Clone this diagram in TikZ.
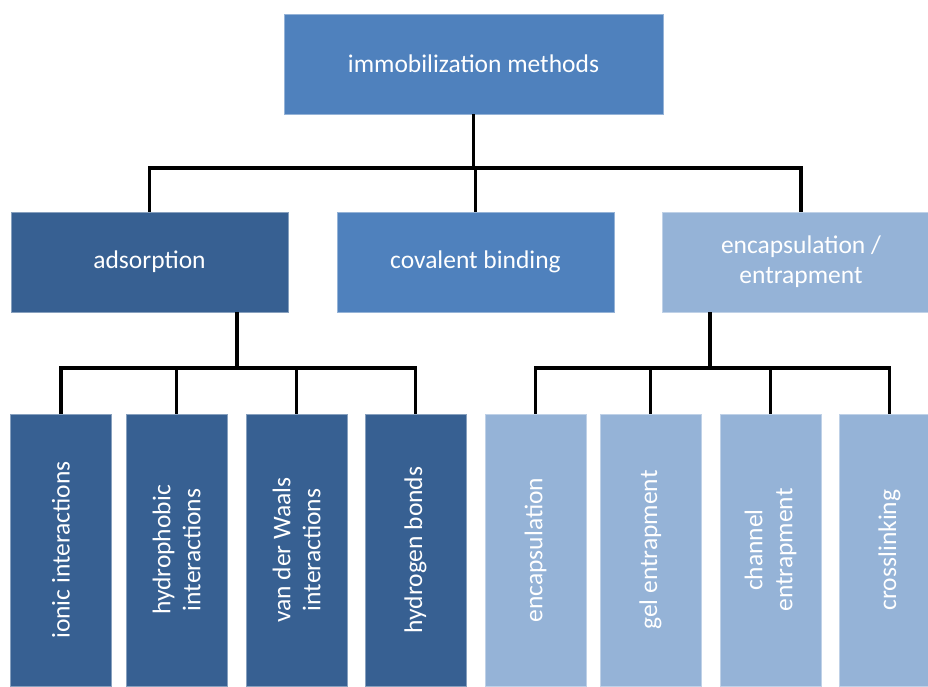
\documentclass[tikz,border=0pt]{standalone}
\usepackage{fontspec}
\setmainfont{Carlito}
\usetikzlibrary{positioning}
\definecolor{ImmoBlue}{HTML}{4F81BD}
\definecolor{ImmoDark}{HTML}{376092}
\definecolor{ImmoLight}{HTML}{95B3D7}
\tikzset{box/.style={fill=#1,draw=#1!60!white,line width=0.8pt,text=white,
align=center,inner sep=0pt,font=\fontsize{25.5}{30}\selectfont},
group/.style={box=#1,minimum width=277pt,minimum height=100pt},
leaf/.style={box=#1,rotate=90,minimum width=272pt,minimum height=101pt},
link/.style={line width=3.2pt,draw=black}}

\begin{document}
\begin{tikzpicture}[x=1pt,y=-1pt]
\clip (0,0) rectangle (928,686);
\node[box=ImmoBlue,minimum width=379pt,minimum height=100pt](methods) at (473.5,64){immobilization methods};
\node[group=ImmoDark](adsorption) at (149.5,262){adsorption};
\node[group=ImmoBlue](covalent) at (475.5,262){covalent binding};
\node[group=ImmoLight](encaps) at (801,262){encapsulation /\\entrapment};
\coordinate (hubTop) at (473.5,168);
\coordinate (hubAds) at (237,368);
\coordinate (hubEnc) at (710,368);
\draw[link](methods)--(hubTop);
\foreach \n in {adsorption,covalent,encaps}\draw[link](hubTop)-|(\n);
\draw[link](hubAds|-adsorption.south)--(hubAds);
\draw[link](hubEnc|-encaps.south)--(hubEnc);
\foreach \x/\n/\t in {61/ionic/ionic interactions,176.5/hydrophobic/hydrophobic\\interactions,
296.5/vdw/van der Waals\\interactions,415.5/hbond/hydrogen bonds}{
\node[leaf=ImmoDark](\n) at (\x,550){\t};
\draw[link](hubAds)-|(\n);}
\foreach \x/\n/\t in {535.5/capsule/encapsulation,650.5/gel/gel entrapment,
770.5/channel/channel\\entrapment,889.5/crosslink/crosslinking}{
\node[leaf=ImmoLight](\n) at (\x,550){\t};
\draw[link](hubEnc)-|(\n);}
\end{tikzpicture}
\end{document}
